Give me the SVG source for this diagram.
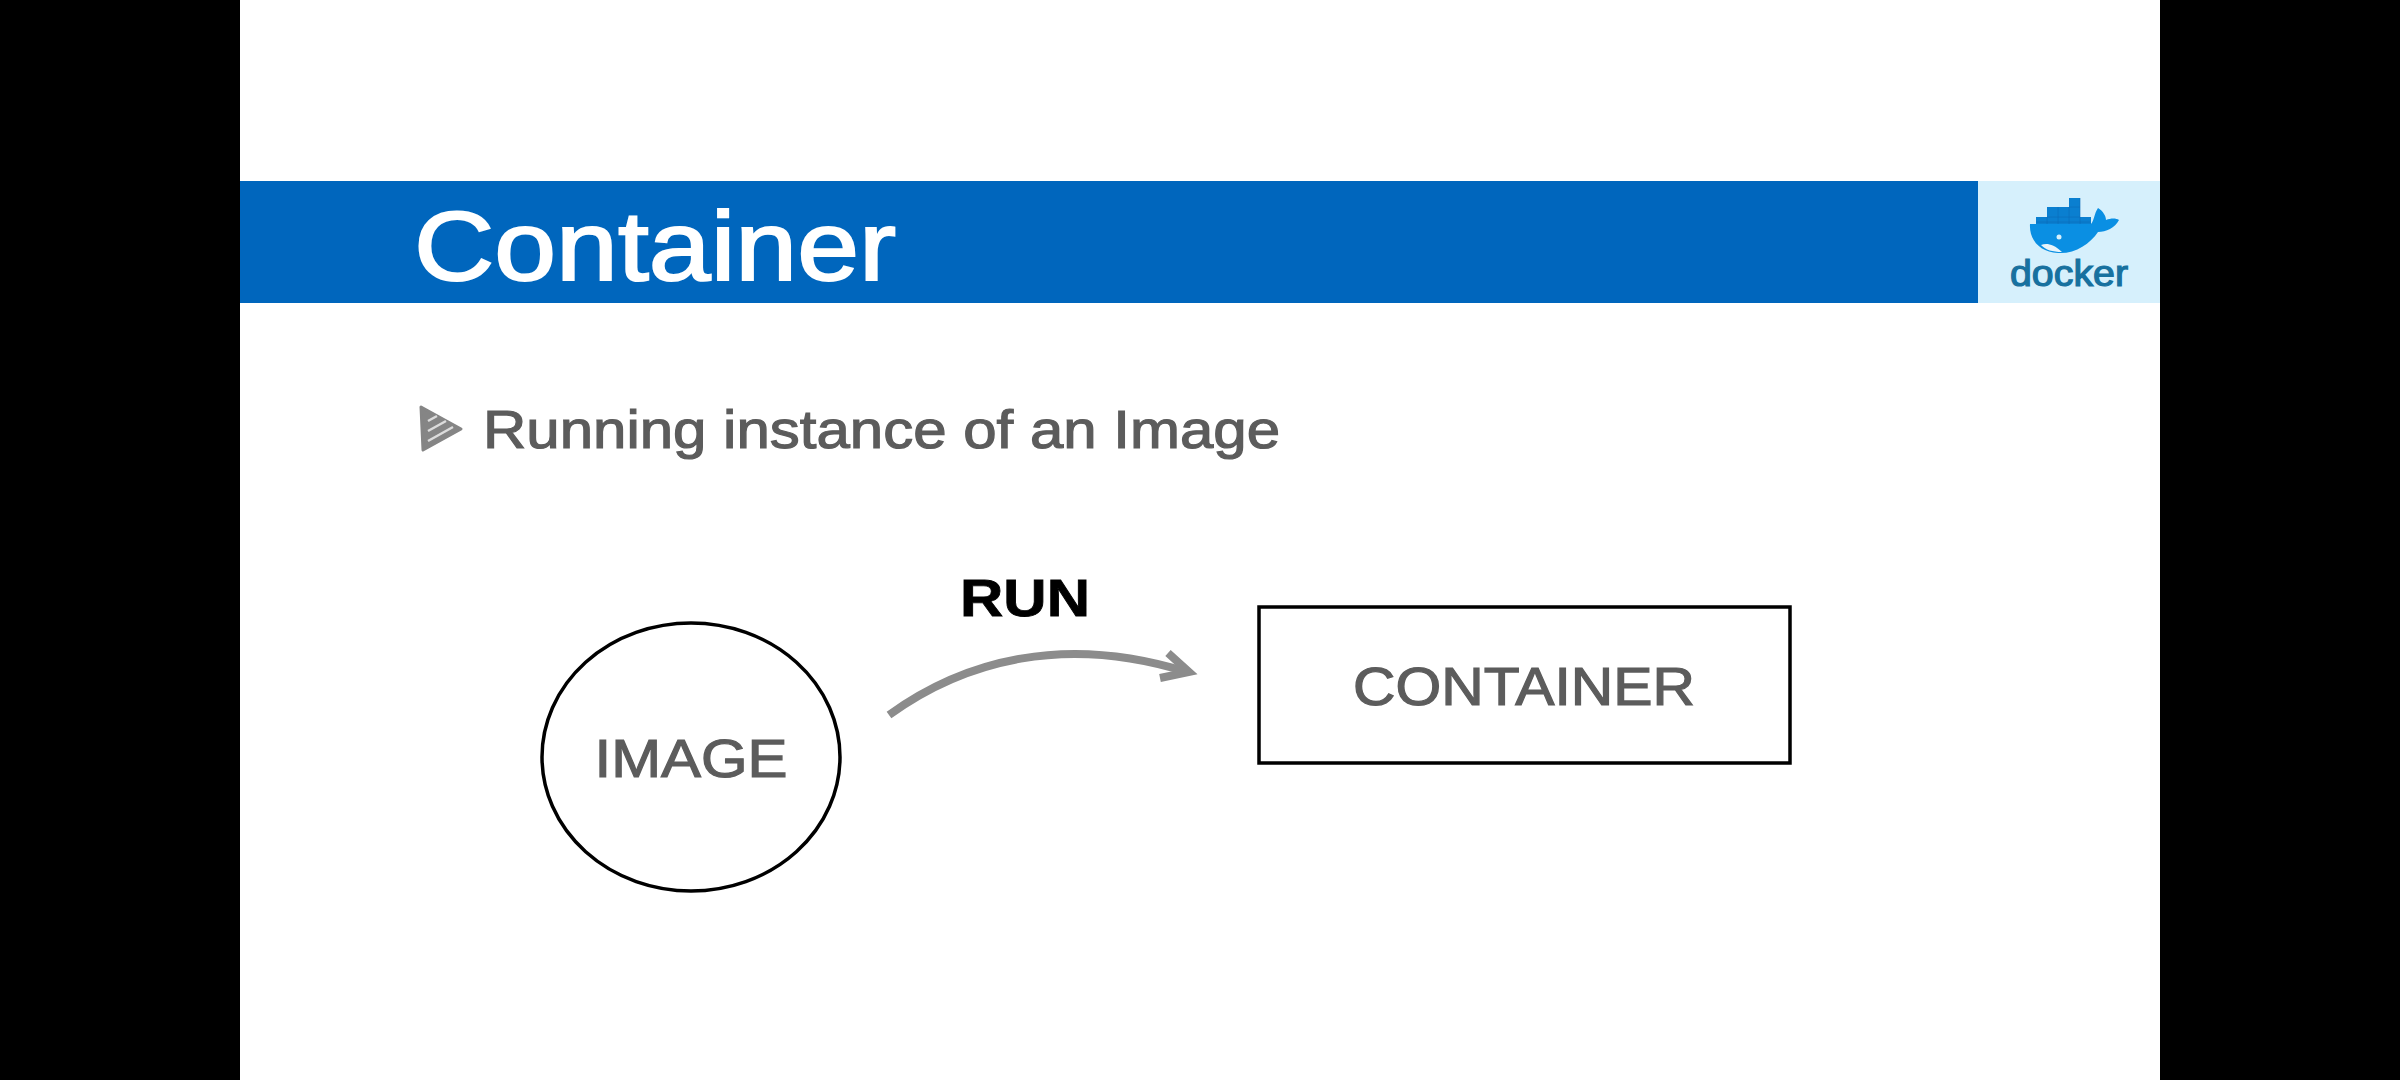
<svg xmlns="http://www.w3.org/2000/svg" width="2400" height="1080" viewBox="0 0 2400 1080">
<style>
.s{font-family:"Liberation Sans",Arial,Helvetica,sans-serif}
.g{fill:#5c5c5c;stroke:#5c5c5c;stroke-width:1.2}
.o{fill:#fff;stroke:#000;stroke-width:3.500}
.c{fill:#0a8fe3}
.l{fill:#0a7fd0}
.d{stroke:#0a6cb8;stroke-width:1;fill:none;opacity:.6}
</style>
<rect width="2400" height="1080" fill="#fff"/>
<rect x="0" width="240" height="1080" fill="#000"/>
<rect x="2160" width="240" height="1080" fill="#000"/>
<g id="banner">
<rect x="240" y="181" width="1738" height="122" fill="#0066bd"/>
<text class="s" x="414" y="280" font-size="98" fill="#fff" stroke="#fff" stroke-width="2" textLength="482" lengthAdjust="spacingAndGlyphs">Container</text>
</g>
<g id="logo">
<rect x="1978" y="181" width="182" height="122" fill="#d6f0fc"/>
<path class="l" d="M2036 217H2047V207H2069V198H2080V207V217H2091V226H2036Z"/>
<path class="d" d="M2047 217H2080M2036 222H2090M2058 207V226M2069 207V226M2047 217V226M2080 198V226M2069 207H2080"/>
<path class="c" d="M2030 224H2091C2094 221 2094 214 2098 208C2103 211 2106 216 2106 220C2111 218 2116 218 2119 220C2115 228 2106 232 2098 232C2090 244 2075 254 2058 253C2040 252 2029 240 2030 224Z"/>
<path d="M2041 245C2047 243 2053 244 2062 252C2052 252 2046 250 2041 245Z" fill="#e8f4fa"/>
<circle cx="2059" cy="237" r="2.500" fill="#d6f0fc"/>
<text class="s" x="2069" y="286" font-size="36" text-anchor="middle" fill="#17719f" stroke="#17719f" stroke-width="1.200" textLength="118" lengthAdjust="spacingAndGlyphs">docker</text>
</g>
<g id="bullet">
<path d="M421 407L461 429L423 450Z" fill="#858585" stroke="#858585" stroke-width="3" stroke-linejoin="round"/>
<path d="M428 421L437 416M428 431L446 421M428 441L453 427" stroke="#dcdcdc" stroke-width="2.500" fill="none"/>
<text class="s g" x="483" y="448" font-size="54.500" textLength="797" lengthAdjust="spacingAndGlyphs">Running instance of an Image</text>
</g>
<g id="image">
<ellipse class="o" cx="691" cy="757" rx="149" ry="134"/>
<text class="s g" x="691" y="777" font-size="53" text-anchor="middle" textLength="193" lengthAdjust="spacingAndGlyphs">IMAGE</text>
</g>
<g id="container">
<rect class="o" x="1259" y="607" width="531" height="156"/>
<text class="s g" x="1524" y="705" font-size="53" text-anchor="middle" textLength="342" lengthAdjust="spacingAndGlyphs">CONTAINER</text>
</g>
<g id="run">
<text class="s" x="1025" y="616" font-size="52" font-weight="700" text-anchor="middle" fill="#000" stroke="#000" stroke-width=".8" textLength="130" lengthAdjust="spacingAndGlyphs">RUN</text>
</g>
<g id="connectors" fill="none" stroke="#8c8c8c" stroke-width="8">
<path d="M889 715C965 660 1065 634 1187 672"/>
<path d="M1168 653L1189 672L1160 678"/>
</g>
</svg>
